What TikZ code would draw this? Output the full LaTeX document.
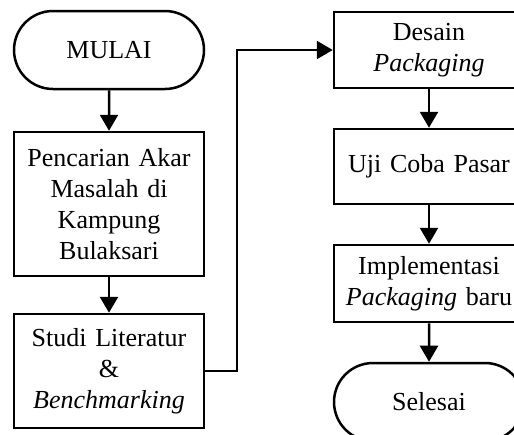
\documentclass[tikz,border=0pt]{standalone}
\usepackage{fontspec}
\setmainfont{Liberation Serif}
\usetikzlibrary{arrows.meta,shapes.misc}
\tikzstyle{terminal}=[rounded rectangle, draw, line width=2.5pt, minimum width=190pt, minimum height=78pt, inner sep=0pt, align=center, font=\fontsize{26}{31}\selectfont]
\tikzstyle{process}=[rectangle, draw, line width=2.5pt, minimum width=190pt, text width=182pt, inner sep=0pt, align=center, font=\fontsize{26}{31}\selectfont]
\tikzstyle{arrow}=[draw=black, line width=2.5pt, -{Triangle[length=16pt,width=18pt]}]

\begin{document}
\begin{tikzpicture}[x=1pt, y=-1pt]
		   \useasboundingbox (0, 0) rectangle (514, 434);
		   \begin{scope}
			   \node (0) at (109, 50)[terminal] {MULAI};
			   \node (1) at (109, 204)[process, minimum height=144pt] {Pencarian Akar\\Masalah di\\Kampung\\Bulaksari};
			   \node (2) at (109, 371)[process, minimum height=114pt] {Studi Literatur\\\&\\\textit{Benchmarking}};
			   \node (3) at (429, 50)[process, minimum height=76pt] {Desain\\\textit{Packaging}};
			   \node (4) at (429, 166.5)[process, minimum height=75pt] {Uji Coba Pasar};
			   \node (5) at (429, 283.5)[process, minimum height=77pt] {Implementasi\\\textit{Packaging} baru};
			   \node (6) at (429, 402)[terminal] {Selesai};
			   \coordinate (7) at (237, 371);
			   \coordinate (8) at (237, 50);
		   \end{scope}
		   \begin{scope}
			   \path [arrow] (0) edge (1);
			   \path [arrow] (1) edge (2);
			   \draw [arrow] (2) -- (7) -- (8) -- (3);
			   \path [arrow] (3) edge (4);
			   \path [arrow] (4) edge (5);
			   \path [arrow] (5) edge (6);
		   \end{scope}
	   \end{tikzpicture}
\end{document}
